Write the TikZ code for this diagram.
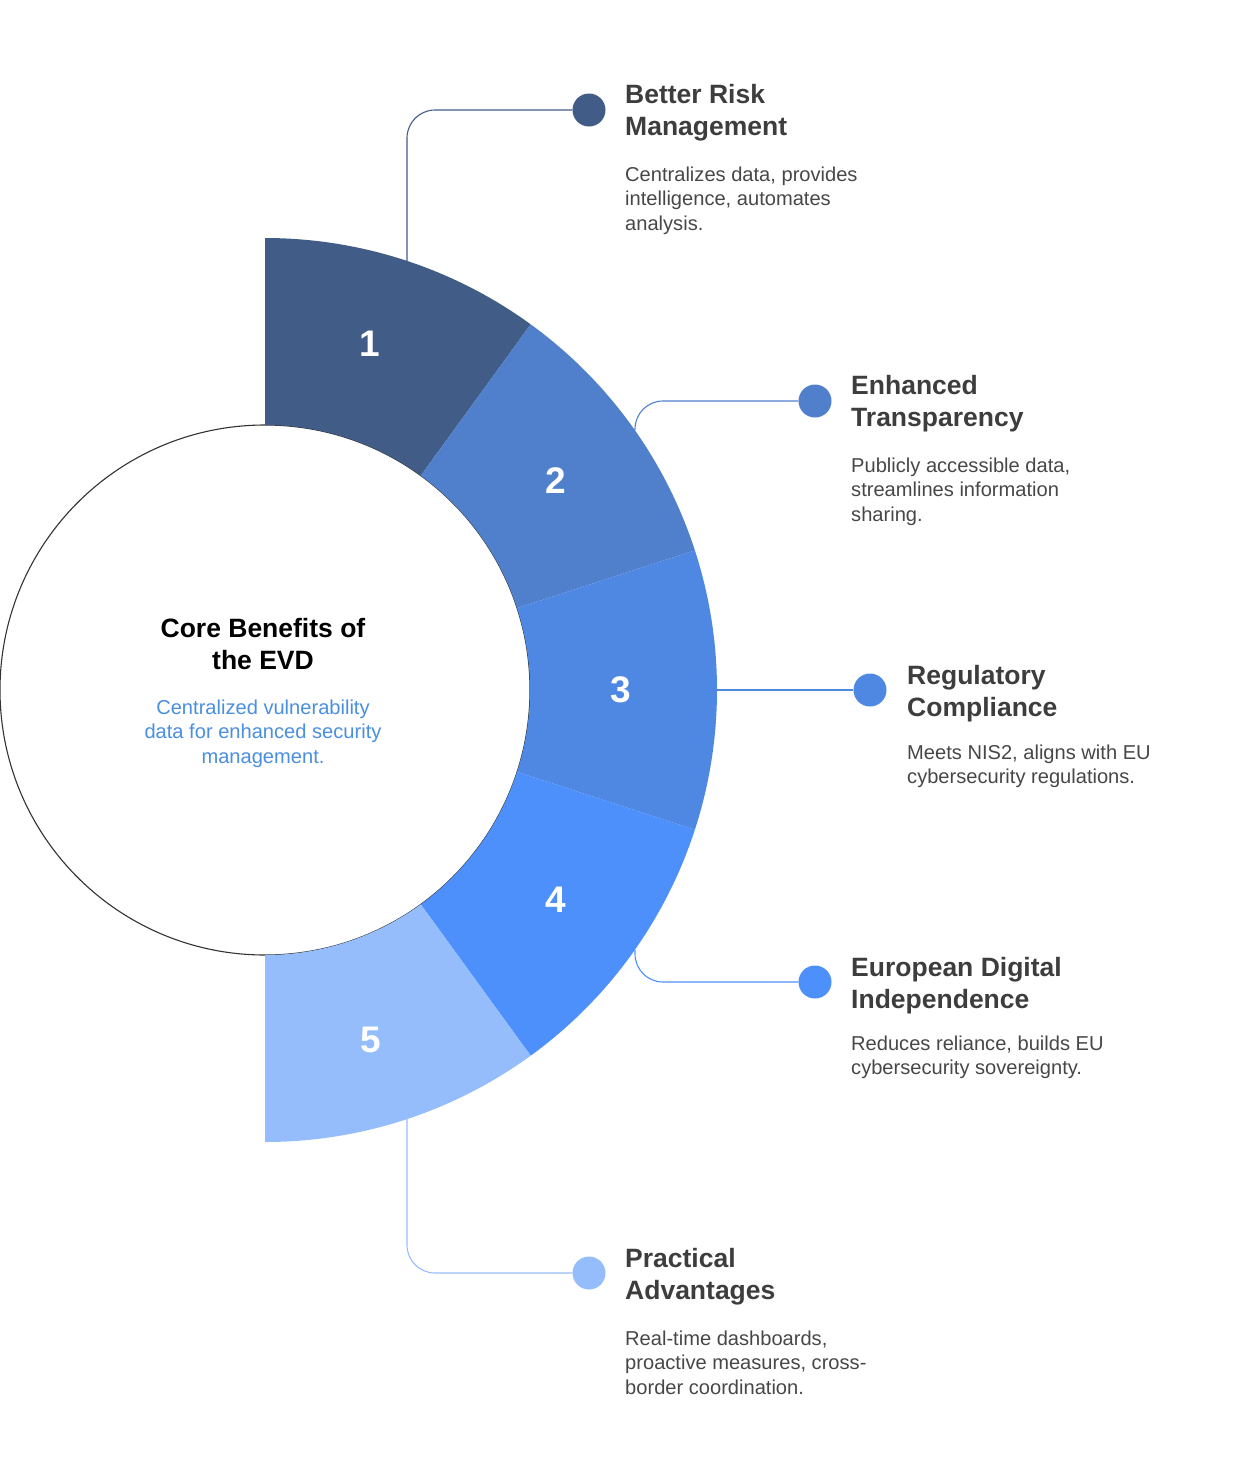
\documentclass[tikz,border=0pt]{standalone}
\usepackage{fontspec}
\setmainfont{Liberation Sans}
\definecolor{cA}{HTML}{415C87}
\definecolor{cB}{HTML}{5080CB}
\definecolor{cC}{HTML}{4E88E3}
\definecolor{cD}{HTML}{4D90FC}
\definecolor{cE}{HTML}{95BDFC}
\definecolor{titlecol}{HTML}{3D3D3D}
\definecolor{desccol}{HTML}{474747}
\definecolor{cblue}{HTML}{4A8FE0}
\tikzset{
  ttl/.style={anchor=base west, inner sep=0, text=titlecol, font=\fontsize{26.5}{32}\selectfont\bfseries},
  dsc/.style={anchor=base west, inner sep=0, text=desccol, font=\fontsize{20.1}{24.5}\selectfont},
  num/.style={inner sep=0, text=white, font=\fontsize{37}{40}\selectfont\bfseries},
  dotnode/.style={circle, inner sep=0, minimum size=33pt},
  conn/.style={line width=1.1pt, rounded corners=28pt},
}
\begin{document}
\begin{tikzpicture}[x=1pt,y=-1pt]
\useasboundingbox (0,0) rectangle (1236,1484);
\coordinate (C) at (265,690);
% centre circle
\draw[line width=1.1pt, draw=black!80, fill=white] (C) circle[radius=265pt];
% ring
\foreach \k/\col in {1/cA,2/cB,3/cC,4/cD,5/cE}{
  \pgfmathsetmacro\a{-90+36*(\k-1)}
  \pgfmathsetmacro\b{-90+36*\k}
  \fill[\col] ([shift={(\a:452)}]C) arc[start angle=\a, end angle=\b, radius=452] -- ([shift={(\b:265)}]C) arc[start angle=\b, end angle=\a, radius=265] -- cycle;
}
% numbers
\node[num] (n1) at (370,344) {1};
\node[num] (n2) at (556,481) {2};
\node[num] (n3) at (621,690) {3};
\node[num] (n4) at (556,900) {4};
\node[num] (n5) at (371,1040) {5};
% centre text
\node[anchor=base, inner sep=0, text=black, font=\fontsize{26.5}{32}\selectfont\bfseries] (ctitle) at (263,637)
  {\begin{tabular}[t]{@{}c@{}}Core Benefits of\\the EVD\end{tabular}};
\node[anchor=base, inner sep=0, text=cblue, font=\fontsize{20.1}{24.5}\selectfont] (cdesc) at (263,714)
  {\begin{tabular}[t]{@{}c@{}}Centralized vulnerability\\data for enhanced security\\management.\end{tabular}};
% start points on ring
\coordinate (s1) at (407,261);
\coordinate (s2) at (635,430);
\coordinate (s3) at (717,690);
\coordinate (s4) at (635,950);
\coordinate (s5) at (407,1119);
% dots
\node[dotnode, fill=cA] (d1) at (589,110) {};
\node[dotnode, fill=cB] (d2) at (815,401) {};
\node[dotnode, fill=cC] (d3) at (870,690) {};
\node[dotnode, fill=cD] (d4) at (815,982) {};
\node[dotnode, fill=cE] (d5) at (589,1273) {};
% connectors
\draw[conn, cA] (s1) |- (d1.west);
\draw[conn, cB] (s2) |- (d2.west);
\draw[conn, cC] (s3) -- (d3.west);
\draw[conn, cD] (s4) |- (d4.west);
\draw[conn, cE] (s5) |- (d5.west);
% labels
\node[ttl] (t1) at (625,103) {\begin{tabular}[t]{@{}l@{}}Better Risk\\Management\end{tabular}};
\node[dsc] (e1) at (625,181) {\begin{tabular}[t]{@{}l@{}}Centralizes data, provides\\intelligence, automates\\analysis.\end{tabular}};
\node[ttl] (t2) at (851,394) {\begin{tabular}[t]{@{}l@{}}Enhanced\\Transparency\end{tabular}};
\node[dsc] (e2) at (851,472) {\begin{tabular}[t]{@{}l@{}}Publicly accessible data,\\streamlines information\\sharing.\end{tabular}};
\node[ttl] (t3) at (907,684) {\begin{tabular}[t]{@{}l@{}}Regulatory\\Compliance\end{tabular}};
\node[dsc] (e3) at (907,759) {\begin{tabular}[t]{@{}l@{}}Meets NIS2, aligns with EU\\cybersecurity regulations.\end{tabular}};
\node[ttl] (t4) at (851,976) {\begin{tabular}[t]{@{}l@{}}European Digital\\Independence\end{tabular}};
\node[dsc] (e4) at (851,1050) {\begin{tabular}[t]{@{}l@{}}Reduces reliance, builds EU\\cybersecurity sovereignty.\end{tabular}};
\node[ttl] (t5) at (625,1267) {\begin{tabular}[t]{@{}l@{}}Practical\\Advantages\end{tabular}};
\node[dsc] (e5) at (625,1345) {\begin{tabular}[t]{@{}l@{}}Real-time dashboards,\\proactive measures, cross-\\border coordination.\end{tabular}};
\end{tikzpicture}
\end{document}
